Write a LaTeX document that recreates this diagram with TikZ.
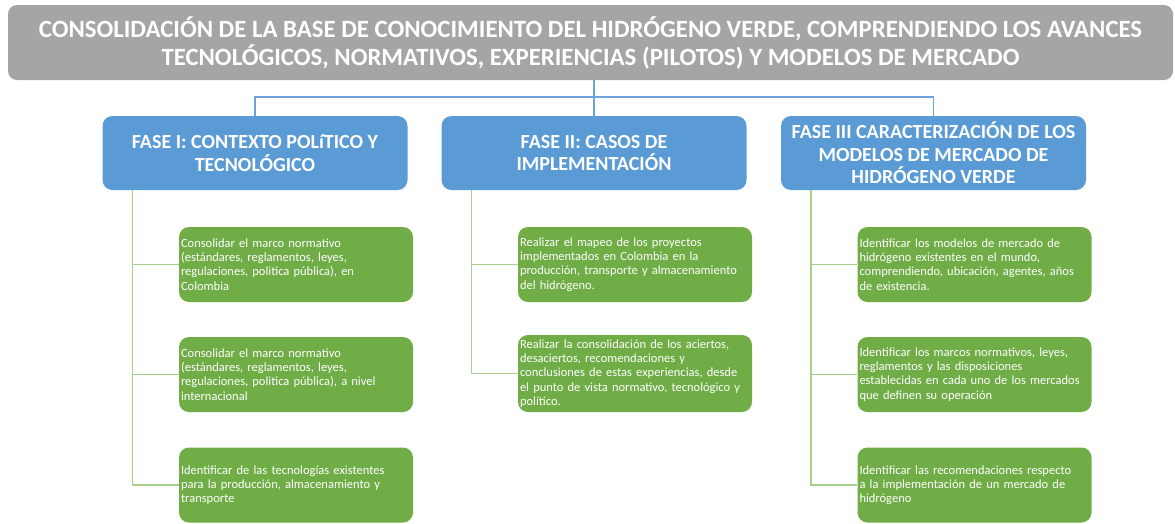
\documentclass[tikz,border=0pt]{standalone}
\usepackage{fontspec}
\setmainfont{Carlito}
\usetikzlibrary{calc}
\definecolor{titlegray}{HTML}{A5A5A5}
\definecolor{faseblue}{HTML}{5B9BD5}
\definecolor{tareagreen}{HTML}{70AD47}
\definecolor{linkblue}{HTML}{6FA3D8}
\definecolor{linkgreen}{HTML}{A9D18E}
\tikzset{
    titlebox/.style={rounded corners=9pt, fill=titlegray, text=white, align=center,
        minimum width=1165pt, minimum height=75pt, inner sep=0pt,
        font=\fontsize{24.8}{28}\selectfont\bfseries},
    fasebox/.style={rounded corners=10pt, fill=faseblue, text=white, align=center,
        minimum width=305pt, minimum height=74pt, inner sep=0pt,
        font=\fontsize{20}{22.5}\selectfont\bfseries},
    tareabox/.style={rounded corners=10pt, fill=tareagreen, text=white, align=left,
        text width=230pt, minimum height=75pt, inner sep=2pt,
        font=\fontsize{12.5}{14.2}\selectfont},
    bluelink/.style={draw=linkblue, line width=1.6pt},
    greenlink/.style={draw=linkgreen, line width=1.6pt}
}

\begin{document}
\begin{tikzpicture}[x=1pt, y=-1pt]
                        \useasboundingbox (0, 0) rectangle (1175, 523);
                        \node[titlebox] (title) at (590.5, 42.5) {CONSOLIDACIÓN DE LA BASE DE CONOCIMIENTO DEL HIDRÓGENO VERDE, COMPRENDIENDO LOS AVANCES\\TECNOLÓGICOS, NORMATIVOS, EXPERIENCIAS (PILOTOS) Y MODELOS DE MERCADO};

                        \node[fasebox] (f1) at (255, 153) {FASE I: CONTEXTO POLíTICO Y\\TECNOLÓGICO};
                        \node[fasebox] (f2) at (594, 153) {FASE II: CASOS DE\\IMPLEMENTACIÓN};
                        \node[fasebox] (f3) at (933.5, 153) {FASE III CARACTERIZACIÓN DE LOS\\MODELOS DE MERCADO DE\\HIDRÓGENO VERDE};

                        \node[tareabox] (a1) at (296, 264.5) {Consolidar el marco normativo\\(estándares, reglamentos, leyes,\\regulaciones, politica pública), en\\Colombia};
                        \node[tareabox] (a2) at (296, 374.5) {Consolidar el marco normativo\\(estándares, reglamentos, leyes,\\regulaciones, politica pública), a nivel\\internacional};
                        \node[tareabox] (a3) at (296, 485) {Identificar de las tecnologías existentes\\para la producción, almacenamiento y\\transporte};

                        \node[tareabox] (b1) at (635, 264.5) {Realizar el mapeo de los proyectos\\implementados en Colombia en la\\producción, transporte y almacenamiento\\del hidrógeno.};
                        \node[tareabox, minimum height=77pt] (b2) at (635, 373.5) {Realizar la consolidación de los aciertos,\\desaciertos, recomendaciones y\\conclusiones de estas experiencias, desde\\el punto de vista normativo, tecnológico y\\político.};

                        \node[tareabox] (c1) at (974.5, 264.5) {Identificar los modelos de mercado de\\hidrógeno existentes en el mundo,\\comprendiendo, ubicación, agentes, años\\de existencia.};
                        \node[tareabox] (c2) at (974.5, 374.5) {Identificar los marcos normativos, leyes,\\reglamentos y las disposiciones\\establecidas en cada uno de los mercados\\que definen su operación};
                        \node[tareabox] (c3) at (974.5, 485) {Identificar las recomendaciones respecto\\a la implementación de un mercado de\\hidrógeno};

                        \draw[bluelink]
                        (f1.north) -- ++(0, -19) -| (f3.north)
                        (title.south -| f2.north) -- (f2.north);

                        \foreach \fase/\tarea in {f1/a1, f1/a2, f1/a3, f2/b1, f2/b2, f3/c1, f3/c2, f3/c3}
                            \draw[greenlink] ($(\fase.south west) + (30, 0)$) |- (\tarea.west);
                    \end{tikzpicture}
\end{document}
